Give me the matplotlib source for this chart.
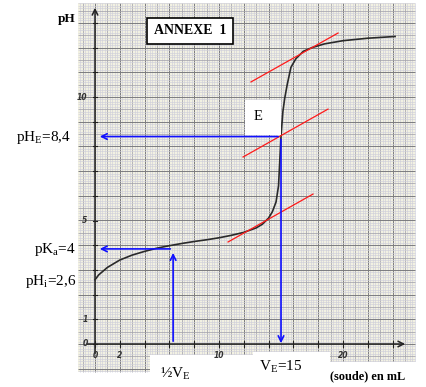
import numpy as np
import matplotlib
matplotlib.use("Agg")
import matplotlib.pyplot as plt
from matplotlib.patches import Rectangle

# titration curve (volume of soude in mL, pH)
volume = [0, 0.3, 1, 2, 3, 4, 5, 6, 7, 8, 9, 10, 11, 12, 13, 13.5, 14, 14.3,
          14.6, 14.8, 15.0, 15.15, 15.3, 15.5, 15.8, 16.2, 16.8, 17.5, 18.5,
          20, 22, 24.2]
ph = [2.6, 2.8, 3.1, 3.4, 3.6, 3.75, 3.88, 3.98, 4.07, 4.15, 4.22, 4.3, 4.4,
      4.52, 4.7, 4.85, 5.1, 5.35, 5.75, 6.4, 8.4, 9.4, 9.95, 10.5, 11.2,
      11.55, 11.85, 12.0, 12.15, 12.28, 12.38, 12.45]

# construction lines (parallel tangents method)
tangents = [((12.58, 10.61), (19.6, 12.59)),
            ((11.94, 7.57), (18.79, 9.51)),
            ((10.73, 4.13), (17.58, 6.07))]
v_eq, ph_eq = 15, 8.4
v_half, ph_pka = 6.3, 3.85

y_ticks = [0, 1, 5, 10]
x_ticks = [0, 2, 10, 20]

W, H = 426, 387
fig = plt.figure(figsize=(W / 100, H / 100), dpi=100)
ax = fig.add_axes([0, 0, 1, 1])
ax.set_axis_off()

# pixel -> data mapping of the scan
X0, SX = 95, 12.4
Y0, SY = 344, 24.7
def dx(p): return (p - X0) / SX
def dy(p): return (Y0 - p) / SY

ax.set_xlim(dx(0), dx(W))
ax.set_ylim(dy(H), dy(0))

# graph paper
gx0, gx1 = dx(78), dx(415)
gy0, gy1 = dy(372), dy(3)
ax.add_patch(Rectangle((gx0, gy0), gx1 - gx0, gy1 - gy0,
                       facecolor="#f2f1e2", edgecolor="none", zorder=0))
def paper_style(n):
    if n % 10 == 0:
        return "#7c7c80", 0.7
    if n % 5 == 0:
        return "#a4a4ae", 0.55
    return "#cfcfdb", 0.45

for v in np.arange(-1.2, 25.81, 0.2):
    c, lw = paper_style(int(round(v / 0.2)))
    ax.vlines(v, gy0, gy1, colors=c, lw=lw, zorder=1)
for v in np.arange(-1.1, 13.81, 0.1):
    c, lw = paper_style(int(round(v / 0.1)))
    ax.hlines(v, gx0, gx1, colors=c, lw=lw, zorder=1)

# white areas of the sheet under the labels
for (a, b, c, d) in [(150, 355, 253, 387), (253, 352, 330, 387), (330, 362, 426, 387)]:
    ax.add_patch(Rectangle((dx(a), dy(d)), dx(c) - dx(a), dy(b) - dy(d),
                           facecolor="white", edgecolor="none", zorder=2))

# axes with arrows
ax.annotate("", xy=(0, dy(5)), xytext=(0, dy(356)),
            arrowprops=dict(arrowstyle="->", color="#222222", lw=1.1), zorder=3)
ax.annotate("", xy=(dx(408), 0), xytext=(dx(84), 0),
            arrowprops=dict(arrowstyle="->", color="#222222", lw=1.1), zorder=3)
for t in range(0, 14):
    ax.plot([-0.2, 0.2], [t, t], color="#222222", lw=0.8, zorder=3)
for t in range(0, 25, 2):
    ax.plot([t, t], [-0.12, 0.12], color="#222222", lw=0.8, zorder=3)
for t in y_ticks:
    ax.text(-0.6, t, str(t), fontsize=5.5, style="italic", fontweight="bold",
            ha="right", va="center", color="#333333", zorder=3)
for t in x_ticks:
    ax.text(t, -0.45, str(t), fontsize=5.5, style="italic", fontweight="bold",
            ha="center", va="center", color="#333333", zorder=3)

# curve
ax.plot(volume, ph, color="#2a2a2a", lw=1.2, zorder=4)

# tangents
for (p1, p2) in tangents:
    ax.plot([p1[0], p2[0]], [p1[1], p2[1]], color="#ff1a1a", lw=0.9, zorder=5)

# blue construction arrows
blue = "#1010ff"
ax.annotate("", xy=(dx(97), ph_eq), xytext=(v_eq, ph_eq),
            arrowprops=dict(arrowstyle="->", color=blue, lw=1.2), zorder=5)
ax.annotate("", xy=(v_eq, dy(346)), xytext=(v_eq, ph_eq),
            arrowprops=dict(arrowstyle="->", color=blue, lw=1.2), zorder=5)
ax.annotate("", xy=(dx(97), ph_pka), xytext=(v_half, ph_pka),
            arrowprops=dict(arrowstyle="->", color=blue, lw=1.2), zorder=5)
ax.annotate("", xy=(v_half, ph_pka - 0.05), xytext=(v_half, 0),
            arrowprops=dict(arrowstyle="->", color=blue, lw=1.2), zorder=5)

# E box
ax.add_patch(Rectangle((dx(245), dy(135)), dx(281) - dx(245), dy(100) - dy(135),
                       facecolor="white", edgecolor="none", zorder=6))

serif = ["Liberation Serif", "DejaVu Serif"]
def ftext(x, y, s, **kw):
    kw.setdefault("family", serif)
    fig.text(x / W, 1 - y / H, s, zorder=8, **kw)

ftext(258, 116, "E", fontsize=10.5, ha="center", va="center")
ftext(190, 31, "ANNEXE  1", fontsize=10, fontweight="bold", ha="center", va="center",
      bbox=dict(boxstyle="square,pad=0.5", facecolor="white", edgecolor="black", lw=1.2))
ftext(67, 19, "pH", fontsize=9.5, fontweight="bold", ha="center", va="center")
ftext(71, 137, r"pH$_\mathregular{E}$=8,4", fontsize=11, ha="right", va="center")
ftext(76, 249, r"pK$_\mathregular{a}$=4", fontsize=11, ha="right", va="center")
ftext(76, 281, r"pH$_\mathregular{i}$=2,6", fontsize=11, ha="right", va="center")
ftext(175, 374, r"½V$_\mathregular{E}$", fontsize=11, ha="center", va="center")
ftext(281, 367, r"V$_\mathregular{E}$=15", fontsize=11, ha="center", va="center")
ftext(368, 376, "(soude) en mL", fontsize=8.8, fontweight="bold", ha="center", va="center")

fig.savefig("out.png", dpi=100)
